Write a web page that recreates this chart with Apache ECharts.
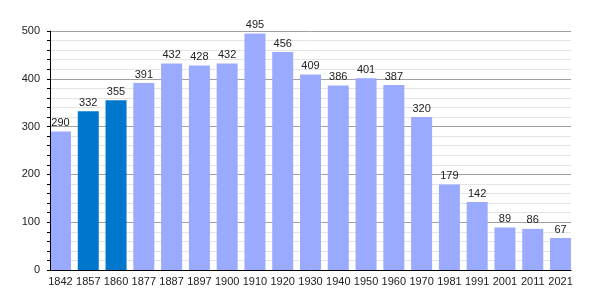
<!DOCTYPE html>
<html><head><meta charset="utf-8">
<script src="https://cdn.jsdelivr.net/npm/echarts@6/dist/echarts.min.js"></script>
<style>html,body{margin:0;padding:0;background:#fff}#c{width:600px;height:300px}</style>
</head><body><div id="c"></div>
<script>
const years = ['1842','1857','1860','1877','1887','1897','1900','1910','1920','1930','1940','1950','1960','1970','1981','1991','2001','2011','2021'];
const population = [290,332,355,391,432,428,432,495,456,409,386,401,387,320,179,142,89,86,67];
const highlighted = ['1857','1860'];
const yTicks = [0,100,200,300,400,500];

const light = '#99aaff', dark = '#0077cc';
const font = 'Liberation Sans, Arial, sans-serif';
const yMin = yTicks[0], yMax = yTicks[yTicks.length-1];
const chart = echarts.init(document.getElementById('c'));
chart.setOption({
  animation:false,
  grid:[
    {left:50,right:29,top:31,bottom:30},
    {left:46.6,right:25.6,top:31,bottom:30}
  ],
  xAxis:[
    {gridIndex:0,type:'category',data:years,
      axisLine:{lineStyle:{color:'#000',width:1}},
      axisTick:{show:false},axisLabel:{show:false},z:10},
    {gridIndex:1,type:'category',data:years,
      axisLine:{show:false},axisTick:{show:false},
      axisLabel:{color:'#222',fontSize:11,fontFamily:font,margin:6,interval:0}}
  ],
  yAxis:[
    {gridIndex:0,type:'value',position:'left',min:yMin,max:yMax,interval:100,
      axisLine:{show:false},axisTick:{show:false},
      splitLine:{lineStyle:{color:'#a0a0a0'}},
      minorTick:{show:false,splitNumber:5},
      minorSplitLine:{show:true,lineStyle:{color:'#e4e4e4'}},
      axisLabel:{color:'#222',fontSize:11,fontFamily:font,margin:10}},
    {gridIndex:1,type:'value',position:'left',min:yMin,max:yMax,interval:100,show:false},
    {gridIndex:0,type:'value',position:'left',offset:0,min:yMin,max:yMax,interval:100,z:10,
      axisLine:{show:true,lineStyle:{color:'#000'}},
      axisTick:{show:true,length:3,lineStyle:{color:'#000'}},
      minorTick:{show:true,splitNumber:5,length:3,lineStyle:{color:'#000'}},
      splitLine:{show:false},axisLabel:{show:false}}
  ],
  series:[{type:'bar',xAxisIndex:1,yAxisIndex:1,barCategoryGap:'24.4%',
    data:population.map((v,i)=>({value:v,itemStyle:{color:highlighted.includes(years[i])?dark:light}})),
    label:{show:true,position:'top',distance:3,color:'#222',fontSize:11,fontFamily:font}}]
});
</script></body></html>
